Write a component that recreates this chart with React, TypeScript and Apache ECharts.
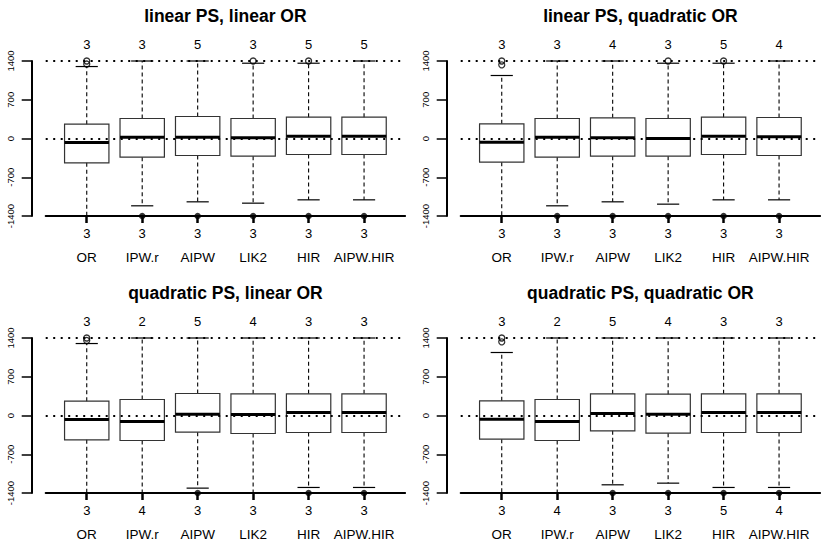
import React, { useEffect, useRef } from "react";
import * as echarts from "echarts";

const categories = ["OR", "IPW.r", "AIPW", "LIK2", "HIR", "AIPW.HIR"];
const panelTitles = [
  "linear PS, linear OR",
  "linear PS, quadratic OR",
  "quadratic PS, linear OR",
  "quadratic PS, quadratic OR",
];
const yTicks = [-1400, -700, 0, 700, 1400];
const refLines = [0, 1400];

// [lower whisker, Q1, median, Q3, upper whisker] per category
const boxesLinLin = [
  [-1400, -440, -72, 259, 1300],
  [-1216, -337, 24, 361, 1400],
  [-1144, -307, 24, 397, 1400],
  [-1168, -319, 12, 361, 1360],
  [-1108, -289, 42, 385, 1360],
  [-1108, -289, 42, 385, 1400],
];
const boxesLinQuad = [
  [-1400, -427, -66, 265, 1138],
  [-1216, -337, 24, 361, 1400],
  [-1144, -319, 12, 373, 1400],
  [-1186, -319, 0, 361, 1360],
  [-1108, -289, 42, 385, 1360],
  [-1108, -307, 30, 379, 1400],
];
const boxesQuadLin = [
  [-1400, -440, -72, 259, 1300],
  [-1400, -452, -108, 289, 1400],
  [-1312, -301, 24, 397, 1400],
  [-1400, -325, 18, 391, 1400],
  [-1300, -307, 54, 391, 1400],
  [-1300, -307, 54, 391, 1400],
];
const boxesQuadQuad = [
  [-1400, -427, -66, 265, 1138],
  [-1400, -452, -108, 289, 1400],
  [-1252, -277, 36, 391, 1400],
  [-1222, -319, 24, 385, 1400],
  [-1300, -307, 54, 391, 1400],
  [-1300, -307, 54, 391, 1400],
];

// upper outliers: [category number, value]
const upperLinLin = [[1, 1400], [1, 1345], [4, 1400], [5, 1400]];
const upperLinQuad = [[1, 1400], [1, 1330], [4, 1400], [5, 1400]];
const upperQuadLin = [[1, 1400], [1, 1355]];
const upperQuadQuad = [[1, 1400], [1, 1330]];

// categories with clipped points drawn at the lower limit
const lowerLinLin = [2, 3, 4, 5, 6];
const lowerLinQuad = [2, 3, 4, 5, 6];
const lowerQuadLin = [3, 5, 6];
const lowerQuadQuad = [3, 4, 5, 6];

// counts of values beyond the limits
const topLinLin = [3, 3, 5, 3, 5, 5];
const topLinQuad = [3, 3, 4, 3, 5, 4];
const topQuadLin = [3, 2, 5, 4, 3, 3];
const topQuadQuad = [3, 2, 5, 4, 3, 3];
const bottomLinLin = [3, 3, 3, 3, 3, 3];
const bottomLinQuad = [3, 3, 3, 3, 3, 3];
const bottomQuadLin = [3, 4, 3, 3, 3, 3];
const bottomQuadQuad = [3, 4, 3, 3, 5, 4];

const lowerLimit = -1400;

const panels = [
  { title: panelTitles[0], boxes: boxesLinLin, upper: upperLinLin, lower: lowerLinLin, top: topLinLin, bottom: bottomLinLin },
  { title: panelTitles[1], boxes: boxesLinQuad, upper: upperLinQuad, lower: lowerLinQuad, top: topLinQuad, bottom: bottomLinQuad },
  { title: panelTitles[2], boxes: boxesQuadLin, upper: upperQuadLin, lower: lowerQuadLin, top: topQuadLin, bottom: bottomQuadLin },
  { title: panelTitles[3], boxes: boxesQuadQuad, upper: upperQuadQuad, lower: lowerQuadQuad, top: topQuadQuad, bottom: bottomQuadQuad },
];

const FONT = "Liberation Sans";
const X_MIN = 0.26;
const X_MAX = 6.74;
const catValues = [1, 2, 3, 4, 5, 6];

function renderBox(params: any, api: any) {
  const x = api.value(0);
  const lo = api.coord([x, api.value(1)]);
  const q1 = api.coord([x, api.value(2)]);
  const med = api.coord([x, api.value(3)]);
  const q3 = api.coord([x, api.value(4)]);
  const hi = api.coord([x, api.value(5)]);
  const unit = api.size([1, 0])[0];
  const cx = lo[0];
  const hb = unit * 0.4;
  const hc = unit * 0.2;
  const dash = { stroke: "#000", lineWidth: 1.1, lineDash: [4, 3] };
  const solid = { stroke: "#000", lineWidth: 1.2 };
  return {
    type: "group",
    children: [
      { type: "line", shape: { x1: cx, y1: q3[1], x2: cx, y2: hi[1] }, style: dash },
      { type: "line", shape: { x1: cx, y1: q1[1], x2: cx, y2: lo[1] }, style: dash },
      { type: "line", shape: { x1: cx - hc, y1: hi[1], x2: cx + hc, y2: hi[1] }, style: solid },
      { type: "line", shape: { x1: cx - hc, y1: lo[1], x2: cx + hc, y2: lo[1] }, style: solid },
      {
        type: "rect",
        shape: { x: cx - hb, y: q3[1], width: hb * 2, height: q1[1] - q3[1] },
        style: { fill: "none", stroke: "#333", lineWidth: 1.2 },
      },
      { type: "line", shape: { x1: cx - hb, y1: med[1], x2: cx + hb, y2: med[1] }, style: { stroke: "#000", lineWidth: 3 } },
    ],
  };
}

function buildOption() {
  const gridW = 359.4;
  const gridH = 155;
  const grids: any[] = [];
  const xAxes: any[] = [];
  const yAxes: any[] = [];
  const series: any[] = [];
  const graphics: any[] = [];

  panels.forEach((p, i) => {
    const col = i % 2;
    const row = Math.floor(i / 2);
    const left = 45.7 + 415 * col;
    const top = 61 + 277 * row;
    grids.push({ left, top, width: gridW, height: gridH, containLabel: false });

    graphics.push({
      type: "text",
      x: left + gridW / 2,
      y: 16 + 277 * row,
      style: {
        text: p.title,
        align: "center",
        verticalAlign: "middle",
        fontSize: 17.5,
        fontWeight: "bold",
        fontFamily: FONT,
        fill: "#000",
      },
    });

    xAxes.push({
      gridIndex: i,
      type: "value",
      min: X_MIN,
      max: X_MAX,
      position: "bottom",
      splitLine: { show: false },
      axisLine: { show: true, onZero: false, lineStyle: { color: "#000", width: 2 } },
      axisTick: { show: true, customValues: catValues, length: 7, lineStyle: { color: "#000", width: 2.5 } },
      axisLabel: {
        show: true,
        customValues: catValues,
        margin: 5,
        formatter: (v: number) => {
          const k = Math.round(v) - 1;
          return `{c|${p.bottom[k]}}\n{n|${categories[k]}}`;
        },
        rich: {
          c: { fontSize: 13, lineHeight: 24, color: "#000", fontFamily: FONT },
          n: { fontSize: 13.5, lineHeight: 24, color: "#000", fontFamily: FONT },
        },
      },
    });
    xAxes.push({
      gridIndex: i,
      type: "value",
      min: X_MIN,
      max: X_MAX,
      position: "top",
      splitLine: { show: false },
      axisLine: { show: false },
      axisTick: { show: false },
      axisLabel: {
        show: true,
        customValues: catValues,
        margin: 10,
        color: "#000",
        fontSize: 13,
        fontFamily: FONT,
        formatter: (v: number) => String(p.top[Math.round(v) - 1]),
      },
    });

    yAxes.push({
      gridIndex: i,
      type: "value",
      min: yTicks[0],
      max: yTicks[yTicks.length - 1],
      interval: 700,
      offset: 14,
      splitLine: { show: false },
      axisLine: { show: true, lineStyle: { color: "#000", width: 2 } },
      axisTick: { show: true, length: 10, lineStyle: { color: "#000", width: 1.5 } },
      axisLabel: {
        show: true,
        rotate: 90,
        margin: 16,
        align: "center",
        verticalAlign: "bottom",
        alignMinLabel: "center",
        alignMaxLabel: "center",
        color: "#000",
        fontSize: 9.5,
        fontFamily: FONT,
        formatter: (v: number) => String(v),
      },
    });

    series.push({
      type: "custom",
      xAxisIndex: 2 * i,
      yAxisIndex: i,
      renderItem: renderBox,
      encode: { x: 0, y: [1, 2, 3, 4, 5] },
      data: p.boxes.map((b, k) => [k + 1, ...b]),
      z: 3,
      markLine: {
        silent: true,
        symbol: "none",
        label: { show: false },
        lineStyle: { color: "#000", type: [2, 5.5], width: 1.8 },
        data: refLines.map((v) => ({ yAxis: v })),
      },
    });
    series.push({
      type: "scatter",
      xAxisIndex: 2 * i,
      yAxisIndex: i,
      symbol: "circle",
      symbolSize: 6,
      itemStyle: { color: "rgba(0,0,0,0)", borderColor: "#000", borderWidth: 1.3 },
      data: p.upper,
      z: 4,
    });
    series.push({
      type: "scatter",
      xAxisIndex: 2 * i,
      yAxisIndex: i,
      symbol: "circle",
      symbolSize: 6.5,
      itemStyle: { color: "#000" },
      data: p.lower.map((c) => [c, lowerLimit]),
      z: 4,
    });
  });

  return {
    animation: false,
    backgroundColor: "#fff",
    textStyle: { fontFamily: FONT },
    grid: grids,
    xAxis: xAxes,
    yAxis: yAxes,
    series,
    graphic: graphics,
  };
}

export default function App() {
  const ref = useRef<HTMLDivElement>(null);
  useEffect(() => {
    if (!ref.current) return;
    const chart = echarts.init(ref.current, undefined, { renderer: "svg" });
    chart.setOption(buildOption() as any);
    return () => chart.dispose();
  }, []);
  return (
    <div
      ref={ref}
      style={{ position: "absolute", left: 0, top: 0, width: 830, height: 554, background: "#fff" }}
    />
  );
}
